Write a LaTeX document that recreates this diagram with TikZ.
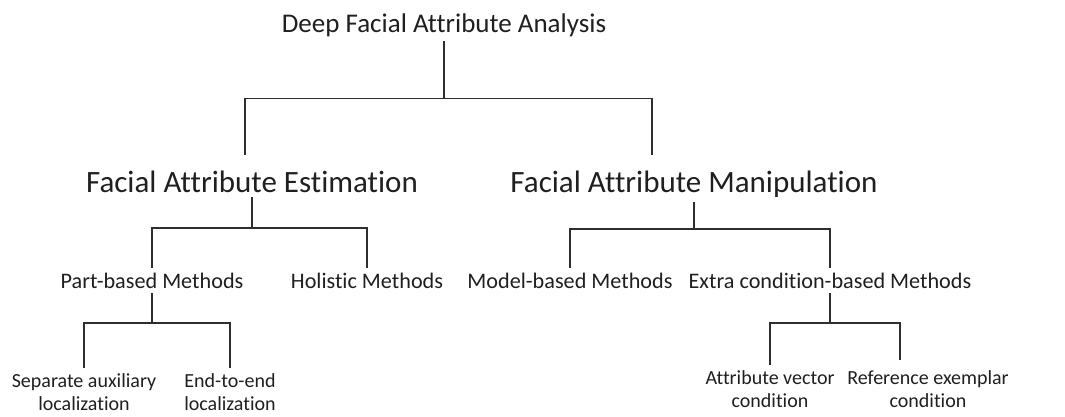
\documentclass[tikz,border=0pt]{standalone}
\usepackage{fontspec}
\setmainfont{Carlito}[Ligatures=CommonOff]

\begin{document}
\begin{tikzpicture}[x=1pt,y=-1pt]
    \tikzset{every node/.style={inner sep=0pt, outer ysep=5pt, anchor=base, text=black!88}}
    \tikzset{lvlzero/.style={font=\fontsize{27}{32}\selectfont}}
    \tikzset{lvlone/.style={font=\fontsize{31}{36}\selectfont}}
    \tikzset{lvltwo/.style={font=\fontsize{22.2}{26}\selectfont}}
    \tikzset{lvlthree/.style={font=\fontsize{20}{23}\selectfont, align=center}}
    \tikzset{edge/.style={draw=black!82, line width=1.6pt}}
    \useasboundingbox (0,0) rectangle (1065,416);

    \node[lvlzero] (root) at (444,32) {Deep Facial Attribute Analysis};

    \node[lvlone] (est) at (252,192) {Facial Attribute Estimation};
    \node[lvlone] (man) at (694,192) {Facial Attribute Manipulation};

    \node[lvltwo] (part) at (152,288) {Part-based Methods};
    \node[lvltwo] (hol) at (367,288) {Holistic Methods};
    \node[lvltwo] (model) at (570,288) {Model-based Methods};
    \node[lvltwo] (extra) at (830,288) {Extra condition-based Methods};

    \node[lvlthree] (sep) at (84,410) {Separate auxiliary\\localization};
    \node[lvlthree] (end) at (230,410) {End-to-end\\localization};
    \node[lvlthree] (attr) at (770,407) {Attribute vector\\condition};
    \node[lvlthree] (ref) at (928,407) {Reference exemplar\\condition};

    \coordinate (estin) at (245,155);
    \coordinate (manin) at (652,155);
    \coordinate (refin) at (900,360);

    \draw[edge] (root.south) -- ++(0,57) coordinate (rootbar) -| (estin);
    \draw[edge] (rootbar) -| (manin);
    \draw[edge] (est.south) -- ++(0,31) coordinate (estbar) -| (part);
    \draw[edge] (estbar) -| (hol);
    \draw[edge] (man.south) -- ++(0,27) coordinate (manbar) -| (model);
    \draw[edge] (manbar) -| (extra);
    \draw[edge] (part.south) -- ++(0,30) coordinate (partbar) -| (sep);
    \draw[edge] (partbar) -| (end);
    \draw[edge] (extra.south) -- ++(0,30) coordinate (extrabar) -| (attr);
    \draw[edge] (extrabar) -| (refin);
\end{tikzpicture}
\end{document}
